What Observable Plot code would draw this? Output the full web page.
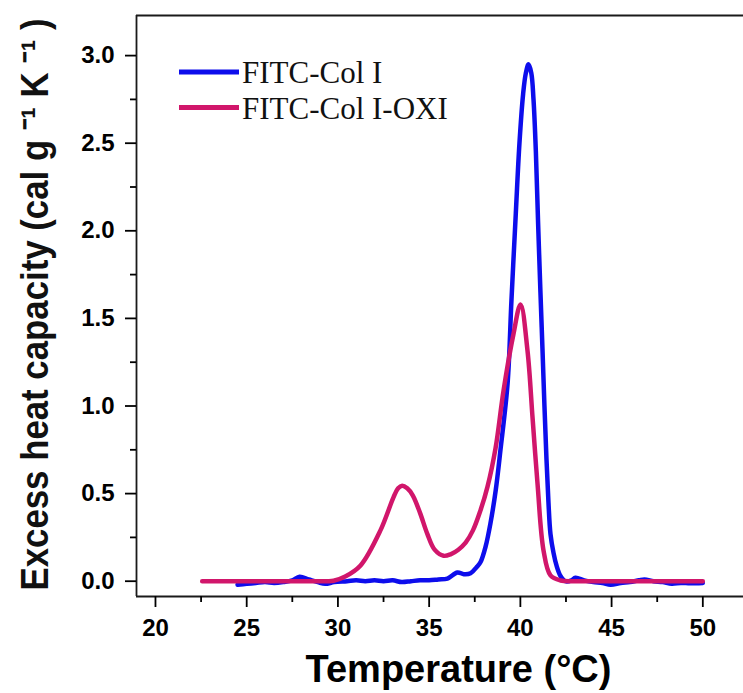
<!DOCTYPE html>
<html><head><meta charset="utf-8">
<script src="https://cdn.jsdelivr.net/npm/d3@7"></script>
<script src="https://cdn.jsdelivr.net/npm/@observablehq/plot@0.6"></script>
<style>
body{margin:0;background:#fff;}
#wrap{position:relative;width:743px;height:693px;overflow:hidden;}
</style></head><body><div id="wrap"></div>
<script>
const seriesNames = ["FITC-Col I", "FITC-Col I-OXI"];
const seriesColors = ["#0d0dec", "#d1166b"];

const tempColI = [24.5,25.0,25.5,26.0,26.5,27.0,27.5,27.9,28.4,28.9,29.3,29.8,30.5,31.0,31.5,32.0,32.5,33.0,33.5,34.0,34.5,35.0,35.5,36.0,36.55,36.9,37.27,37.6,37.82,38.1,38.36,38.65,38.91,39.3,39.51,39.75,39.95,40.15,40.3,40.45,40.6,40.72,40.85,40.97,41.1,41.21,41.32,41.43,41.54,41.65,41.82,41.98,42.2,42.47,42.8,43.02,43.5,44.0,44.5,44.95,45.5,46.0,46.5,46.8,47.3,47.8,48.3,48.8,49.3,50.0];
const heatColI = [-0.02,-0.015,-0.01,-0.005,-0.01,-0.005,0.005,0.025,0.01,-0.005,-0.015,-0.005,0.0,0.005,0.0,0.005,0.0,0.005,-0.005,0.0,0.005,0.005,0.01,0.015,0.05,0.04,0.045,0.08,0.11,0.2,0.33,0.52,0.75,1.13,1.6,2.1,2.5,2.78,2.9,2.95,2.9,2.75,2.45,2.05,1.65,1.33,1.0,0.7,0.45,0.27,0.16,0.09,0.03,0.0,0.005,0.02,0.005,-0.005,-0.01,-0.02,-0.01,-0.005,0.005,0.01,0.0,-0.005,-0.015,-0.01,-0.012,-0.01];

const tempOxi = [22.56,24.0,25.5,27.0,28.5,29.76,30.4,31.24,32.33,33.05,33.3,33.52,33.8,34.1,34.5,34.9,35.3,35.79,36.2,36.6,37.0,37.4,37.8,38.2,38.64,39.08,39.62,40.01,40.39,40.67,40.94,41.27,41.65,42.2,43.0,44.5,46.0,47.5,49.0,50.0];
const heatOxi = [0.0,0.0,0.0,0.0,0.0,0.003,0.027,0.09,0.29,0.48,0.53,0.545,0.53,0.49,0.39,0.27,0.18,0.145,0.155,0.18,0.22,0.29,0.4,0.54,0.76,1.09,1.41,1.58,1.317,0.93,0.557,0.175,0.033,0.004,0.0,0.0,0.0,0.0,0.0,0.0];

const xTicks = [20,25,30,35,40,45,50];
const xMinorTicks = [22.5,27.5,32.5,37.5,42.5,47.5];
const yTicks = [0,0.5,1,1.5,2,2.5,3];
const yMinorTicks = [0.25,0.75,1.25,1.75,2.25,2.75];
const xLabel = "Temperature (°C)";
const yLabel = "Excess heat capacity (cal g \u207B\u00B9 K \u207B\u00B9 )";

const rows = [
  ...tempColI.map((t,i)=>({series:seriesNames[0], t, cp:heatColI[i]})),
  ...tempOxi.map((t,i)=>({series:seriesNames[1], t, cp:heatOxi[i]}))
];
const xDomain = [18.96, 52.23];
const yDomain = [-0.0873, 3.2289];
const font = "'Liberation Sans', Arial, Helvetica, sans-serif";
const frameStyle = {stroke:"#1a1a1a", strokeWidth:1.8};

const plot = Plot.plot({
  width:743, height:693,
  marginLeft:136, marginRight:0, marginTop:15, marginBottom:97,
  style:{fontFamily:font, color:"#000", background:"#fff", overflow:"visible"},
  x:{domain:xDomain},
  y:{domain:yDomain},
  color:{domain:seriesNames, range:seriesColors},
  marks:[
    Plot.line(rows,{x:"t", y:"cp", stroke:"series", z:"series", strokeWidth:4.5, curve:"catmull-rom"}),
    Plot.ruleY([yDomain[1]], frameStyle),
    Plot.ruleY([yDomain[0]], frameStyle),
    Plot.ruleX([xDomain[0]], frameStyle),
    Plot.axisX({ticks:xTicks, tickSize:11, tickPadding:11, fontSize:24, fontWeight:"bold", label:null, strokeWidth:1.8, tickFormat:d=>String(d)}),
    Plot.axisX({ticks:xMinorTicks, tickSize:6, tickFormat:()=>"", label:null, strokeWidth:1.8}),
    Plot.axisY({ticks:yTicks, tickSize:11, tickPadding:11, fontSize:24, fontWeight:"bold", label:null, strokeWidth:1.8, tickFormat:d=>d.toFixed(1)}),
    Plot.axisY({ticks:yMinorTicks, tickSize:6, tickFormat:()=>"", label:null, strokeWidth:1.8}),
    Plot.text([xLabel], {text:d=>d, frameAnchor:"bottom", dx:18.5, dy:85.7, lineAnchor:"bottom", fontSize:38, fontWeight:"bold", fill:"#000"}),
    Plot.text([yLabel], {text:d=>d, frameAnchor:"left", textAnchor:"middle", rotate:-90, dx:-89, dy:-1.5, lineAnchor:"bottom", fontSize:34, fontWeight:"bold", fill:"#111"})
  ]
});

const wrap = document.getElementById("wrap");
wrap.appendChild(plot);

// give the y title the tall, condensed look of the reference
for (const t of plot.querySelectorAll("text")) {
  if (t.textContent === yLabel) {
    t.setAttribute("textLength", 572);
    t.setAttribute("lengthAdjust", "spacingAndGlyphs");
    const tr = t.getAttribute("transform") || "";
    t.setAttribute("transform", tr + " scale(1,1.15)");
  }
}

// legend overlay
const leg = d3.select(wrap).append("svg")
  .attr("width",743).attr("height",693)
  .style("position","absolute").style("left","0px").style("top","0px");
seriesNames.forEach((name,i)=>{
  const y = 72 + 35.5*i;
  leg.append("line").attr("x1",179).attr("x2",239).attr("y1",y).attr("y2",y)
    .attr("stroke",seriesColors[i]).attr("stroke-width",5);
  leg.append("text").attr("x",242).attr("y",y+11).text(name)
    .attr("font-family","'Liberation Serif','Times New Roman',serif")
    .attr("font-size",31).attr("fill","#111");
});
</script></body></html>
